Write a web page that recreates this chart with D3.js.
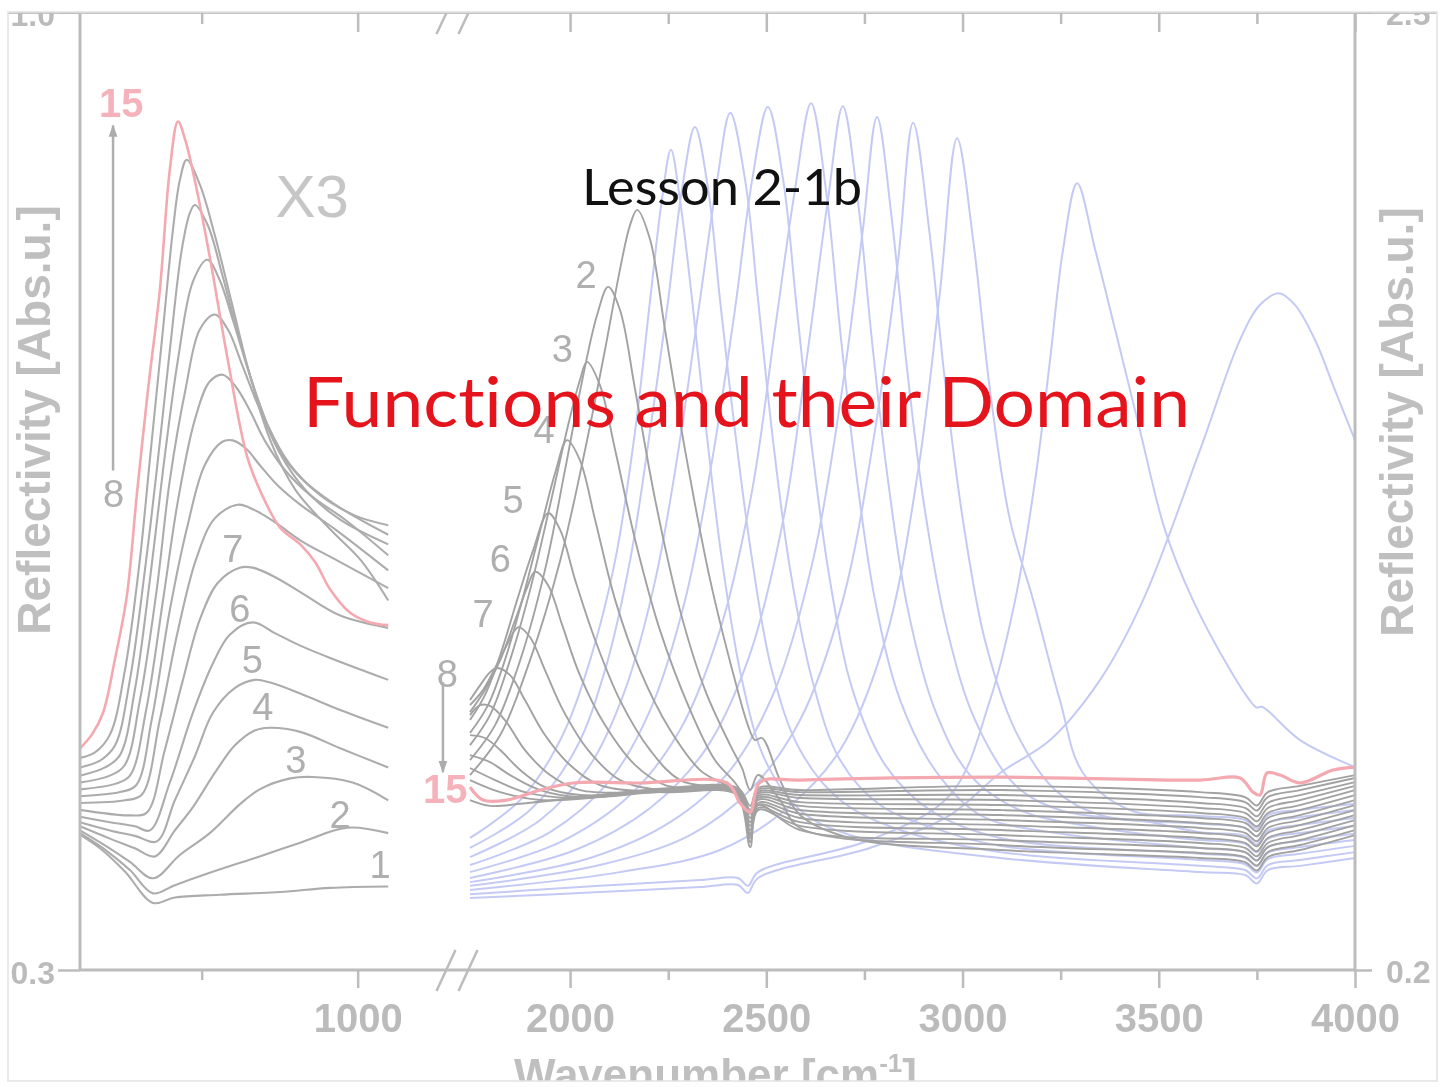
<!DOCTYPE html>
<html>
<head>
<meta charset="utf-8">
<script src="https://cdn.jsdelivr.net/npm/d3@7"></script>
<style>
  body { margin: 0; background: #fff; }
  svg { display: block; }
  .slide { font-variant-ligatures: none; font-feature-settings: "liga" 0; }
</style>
</head>
<body>
<svg id="chart" width="1451" height="1087"></svg>
<script>
// ---- data (wavenumber in cm-1, reflectivity in Abs.u.) ----
var xTicksLeftMajor = [1000], xTicksLeftMinor = [750];
var xTicksRightMajor = [2000, 2500, 3000, 3500, 4000], xTicksRightMinor = [2250, 2750, 3250, 3750];
var yTicksLeft = [0.3, 1.0], yTicksRight = [0.2, 2.5];

// left panel (x3), spectra 1..14 in grey
var leftSpectra = [
  {w: [555,587,627,672,707,779,876,956,1049], r: [.399,.389,.372,.349,.353,.355,.357,.360,.361]},
  {w: [555,595,635,672,707,763,843,908,983,1049], r: [.400,.388,.373,.356,.362,.371,.383,.393,.404,.400]},
  {w: [555,595,635,672,715,763,811,843,892,928,992,1049], r: [.402,.391,.379,.367,.384,.400,.421,.432,.440,.441,.437,.424]},
  {w: [555,603,643,675,707,736,771,803,835,860,908,972,1049], r: [.405,.396,.389,.383,.402,.419,.444,.464,.475,.477,.474,.462,.448]},
  {w: [555,603,643,678,707,739,768,803,835,860,908,972,1049], r: [.408,.402,.398,.394,.424,.456,.488,.506,.512,.510,.502,.490,.477]},
  {w: [555,603,643,667,699,736,767,795,832,868,908,956,1049], r: [.412,.408,.405,.402,.437,.488,.523,.545,.554,.546,.537,.528,.512]},
  {w: [555,635,662,691,720,747,776,811,832,868,912,972,1049], r: [.417,.413,.415,.461,.512,.556,.583,.594,.594,.587,.575,.559,.550]},
  {w: [555,627,654,683,712,741,771,808,835,868,908,964,1049], r: [.422,.424,.428,.483,.548,.600,.630,.640,.636,.627,.614,.600,.579]},
  {w: [555,619,645,670,699,726,755,783,800,821,843,872,908,964,1049], r: [.427,.430,.435,.483,.563,.622,.669,.686,.687,.681,.669,.654,.640,.622,.592]},
  {w: [555,611,635,661,688,712,739,763,784,805,827,851,884,924,980,1049], r: [.432,.436,.442,.490,.570,.643,.702,.730,.735,.726,.709,.687,.665,.647,.629,.603]},
  {w: [555,603,627,651,678,699,724,747,771,792,815,840,872,908,964,1049], r: [.437,.442,.450,.497,.578,.658,.724,.768,.779,.768,.742,.713,.681,.660,.640,.618]},
  {w: [555,595,619,643,667,688,712,736,759,779,800,827,856,892,940,996,1049], r: [.442,.448,.457,.505,.585,.665,.746,.803,.819,.804,.775,.735,.698,.669,.647,.632,.625]},
  {w: [555,587,611,635,659,678,699,718,731,739,760,783,811,840,876,916,972,1049], r: [.448,.453,.464,.512,.592,.665,.753,.826,.853,.859,.844,.808,.760,.717,.677,.651,.629,.611]},
  {w: [555,579,603,627,651,667,688,704,715,726,747,771,799,827,860,900,956,1004,1049], r: [.455,.459,.472,.519,.600,.673,.768,.841,.877,.892,.874,.837,.786,.735,.687,.651,.622,.600,.570]}
];
// left panel, spectrum 15
var leftLast = {w: [555,574,592,611,630,646,664,683,699,712,724,739,763,791,823,847,876,908,932,956,988,1020,1049],
                r: [.462,.472,.488,.527,.573,.647,.724,.797,.885,.920,.906,.877,.821,.748,.675,.647,.623,.611,.598,.578,.561,.554,.552]};

// right panel, spectra 1..14 in grey
var rightSpectra = [
  {w: [1745,1822,1898,1975,2038,2089,2127,2153,2171,2204,2242,2293,2357,2420,2453,2471,2489,2535,2586,2713,3096,3605,3720,3750,3778,3860,4000],
   r: [.668,.764,.944,1.184,1.448,1.689,1.881,1.989,2.025,1.953,1.737,1.448,1.136,.896,.788,.752,.757,.656,.572,.517,.488,.469,.459,.439,.471,.488,.524]},
  {w: [1745,1809,1873,1936,1987,2031,2069,2097,2127,2166,2217,2280,2344,2408,2438,2459,2479,2535,2586,3096,3605,3720,3750,3778,3860,4000],
   r: [.704,.788,.944,1.160,1.400,1.616,1.773,1.840,1.785,1.592,1.328,1.064,.872,.740,.685,.632,.668,.608,.541,.500,.481,.471,.451,.483,.500,.536]},
  {w: [1745,1796,1847,1898,1949,1995,2025,2043,2076,2115,2166,2229,2306,2369,2433,2459,2479,2586,3096,3605,3720,3750,3778,3860,4000],
   r: [.740,.812,.944,1.112,1.316,1.508,1.616,1.660,1.604,1.448,1.232,1.016,.824,.704,.632,.524,.596,.536,.512,.493,.483,.463,.495,.512,.548]},
  {w: [1745,1791,1834,1878,1924,1964,1992,2025,2064,2115,2178,2255,2331,2428,2459,2479,2586,3096,3605,3720,3750,3778,3860,4000],
   r: [.769,.836,.944,1.088,1.256,1.400,1.472,1.424,1.280,1.088,.920,.776,.680,.620,.495,.584,.546,.524,.505,.493,.473,.505,.524,.560]},
  {w: [1745,1783,1822,1865,1906,1944,1975,2013,2064,2127,2204,2280,2428,2459,2479,2586,3096,3605,3720,3750,3778,3860,4000],
   r: [.800,.860,.956,1.088,1.208,1.297,1.256,1.136,.992,.848,.728,.656,.620,.507,.589,.555,.536,.517,.505,.485,.517,.536,.572]},
  {w: [1745,1783,1822,1860,1890,1911,1944,1980,2025,2089,2166,2242,2428,2459,2479,2586,3096,3605,3720,3750,3778,3860,4000],
   r: [.819,.872,.944,1.040,1.117,1.156,1.124,1.028,.908,.788,.692,.644,.620,.517,.596,.565,.548,.529,.517,.497,.529,.548,.584]},
  {w: [1745,1778,1809,1839,1868,1898,1936,1982,2046,2127,2229,2428,2459,2479,2586,3096,3605,3720,3750,3778,3860,4000],
   r: [.836,.872,.925,.980,1.023,.999,.920,.824,.728,.656,.632,.620,.527,.601,.575,.560,.541,.529,.509,.541,.560,.596]},
  {w: [1745,1771,1796,1814,1847,1885,1936,2000,2076,2229,2428,2459,2479,2586,3096,3605,3720,3750,3778,3860,4000],
   r: [.848,.884,.915,.925,.908,.848,.764,.692,.644,.627,.620,.536,.608,.584,.572,.553,.541,.521,.553,.572,.608]},
  {w: [1745,1771,1796,1834,1885,1949,2025,2229,2428,2459,2479,2586,3096,3605,3720,3750,3778,3860,4000],
   r: [.812,.836,.834,.800,.728,.668,.632,.627,.625,.546,.613,.594,.584,.565,.553,.533,.565,.584,.620]},
  {w: [1745,1783,1822,1873,1936,2025,2229,2428,2459,2479,2586,3096,3605,3720,3750,3778,3860,4000],
   r: [.764,.757,.728,.680,.639,.620,.627,.627,.555,.618,.603,.596,.577,.565,.545,.577,.596,.632]},
  {w: [1745,1796,1847,1924,2025,2229,2428,2459,2479,2586,3096,3605,3720,3750,3778,3860,4000],
   r: [.716,.699,.668,.632,.615,.627,.630,.565,.623,.613,.608,.589,.577,.557,.589,.608,.642]},
  {w: [1745,1809,1885,2000,2229,2428,2459,2479,2586,3096,3605,3720,3750,3778,3860,4000],
   r: [.685,.656,.627,.613,.630,.632,.575,.627,.620,.620,.601,.589,.569,.601,.620,.651]},
  {w: [1745,1822,1924,2076,2229,2428,2459,2479,2586,3096,3605,3720,3750,3778,3860,4000],
   r: [.656,.627,.608,.615,.632,.635,.584,.632,.627,.632,.615,.603,.583,.615,.632,.661]},
  {w: [1745,1796,1873,2076,2229,2428,2459,2479,2586,3096,3605,3720,3750,3778,3860,4000],
   r: [.608,.594,.599,.620,.635,.637,.594,.637,.632,.642,.627,.615,.595,.627,.642,.668]}
];
// right panel, spectrum 15
var rightLast = {w: [1745,1778,1839,1924,2008,2178,2400,2433,2459,2484,2586,3096,3605,3707,3740,3758,3776,3809,3860,3944,4000],
                 r: [.639,.608,.608,.632,.649,.649,.649,.601,.579,.651,.656,.663,.656,.661,.627,.620,.673,.668,.649,.680,.687]};

// right panel, later spectra in blue
var rightLater = [
  {w: [1745,1873,1975,2051,2115,2166,2204,2234,2257,2280,2311,2347,2387,2438,2497,2586,2713,3096,3605,3720,3750,3778,3860,4000],
   r: [.517,.608,.752,.944,1.184,1.496,1.809,2.049,2.169,2.049,1.809,1.496,1.184,.896,.704,.584,.524,.469,.435,.428,.408,.440,.450,.469]},
  {w: [1745,1898,2013,2089,2153,2204,2250,2285,2318,2352,2382,2420,2464,2514,2586,2688,2841,3096,3605,3720,3750,3778,3860,4000],
   r: [.493,.584,.728,.920,1.184,1.496,1.809,2.073,2.224,2.073,1.809,1.496,1.184,.920,.728,.608,.536,.483,.450,.440,.420,.452,.464,.483]},
  {w: [1745,1924,2051,2140,2217,2280,2331,2375,2408,2446,2479,2517,2561,2617,2688,2790,2943,3096,3605,3720,3750,3778,3860,4000],
   r: [.471,.560,.692,.872,1.136,1.472,1.809,2.097,2.258,2.097,1.809,1.472,1.160,.896,.704,.596,.536,.498,.464,.454,.434,.466,.479,.498]},
  {w: [1745,1949,2102,2204,2293,2362,2420,2464,2504,2543,2578,2617,2662,2720,2803,2917,3096,3605,3720,3750,3778,3860,4000],
   r: [.452,.531,.656,.824,1.088,1.424,1.785,2.097,2.272,2.097,1.785,1.448,1.136,.872,.692,.584,.517,.479,.469,.449,.481,.495,.512]},
  {w: [1745,1975,2153,2280,2382,2464,2522,2573,2614,2652,2688,2728,2777,2841,2930,3045,3223,3605,3720,3750,3778,3860,4000],
   r: [.435,.507,.620,.776,1.016,1.352,1.737,2.073,2.281,2.073,1.737,1.400,1.088,.848,.680,.572,.531,.493,.483,.463,.495,.510,.527]},
  {w: [1745,2013,2204,2344,2453,2543,2606,2657,2695,2733,2769,2810,2861,2930,3019,3146,3350,3605,3720,3750,3778,3860,4000],
   r: [.421,.488,.589,.728,.944,1.280,1.689,2.049,2.274,2.049,1.713,1.376,1.064,.824,.668,.584,.541,.512,.503,.483,.515,.529,.546]},
  {w: [1745,2051,2255,2408,2522,2619,2693,2746,2782,2820,2859,2904,2961,3032,3134,3248,3478,3605,3720,3750,3778,3860,4000],
   r: [.411,.469,.555,.680,.872,1.184,1.592,1.977,2.248,2.001,1.640,1.304,1.016,.800,.644,.584,.555,.531,.522,.502,.534,.548,.565]},
  {w: [1745,2076,2306,2459,2586,2695,2777,2836,2874,2915,2955,3001,3057,3134,3236,3350,3605,3720,3750,3778,3860,4000],
   r: [.402,.452,.524,.632,.800,1.088,1.496,1.905,2.234,1.977,1.616,1.280,.992,.776,.632,.572,.551,.541,.521,.553,.567,.584]},
  {w: [1745,2127,2382,2548,2688,2803,2887,2943,2986,3027,3070,3121,3180,3248,3307,3427,3605,3720,3750,3778,3860,4000],
   r: [.392,.435,.488,.584,.728,.992,1.400,1.833,2.197,1.953,1.592,1.280,1.088,.848,.673,.584,.570,.560,.540,.572,.584,.599]},
  {w: [1745,2076,2331,2428,2453,2479,2764,2968,3070,3134,3185,3223,3256,3292,3338,3389,3452,3516,3587,3682,3733,3750,3763,3860,4000],
   r: [.382,.402,.416,.421,.402,.435,.512,.620,.848,1.088,1.376,1.665,1.929,2.089,1.929,1.737,1.496,1.256,1.088,.920,.846,.830,.832,.752,.687]},
  {w: [1745,2076,2331,2428,2453,2479,2764,2968,3096,3223,3350,3460,3605,3707,3758,3806,3847,3898,3949,4000],
   r: [.373,.387,.399,.404,.385,.421,.493,.572,.673,.752,.896,1.088,1.448,1.713,1.797,1.825,1.797,1.713,1.592,1.472]}
];

// curve number labels: [text, wavenumber, reflectivity]
var leftLabels = [["1",1036,.367],["2",972,.404],["3",901,.444],["4",848,.483],["5",831,.517],["6",811,.554],["7",800,.598],["8",609,.638]];
var rightLabels = [["2",2041,1.837],["3",1980,1.660],["4",1934,1.465],["5",1855,1.297],["6",1822,1.156],["7",1778,1.023],["8",1687,.879]];
var lastLabelLeft = ["15", 621, .923], lastLabelRight = ["15", 1682, .601];
var arrowLeft = [[608, .665], [608, .917]], arrowRight = [[1676, .891], [1676, .675]];

// ---- drawing ----
var svg = d3.select("#chart");
var W = 1451, H = 1087;
var axisGrey = "#bcbcbc", textGrey = "#bbbbbb";
var sans = "'Liberation Sans', Arial, sans-serif";

var xL = d3.scaleLinear().domain([555, 1140]).range([80, 445]);
var xR = d3.scaleLinear().domain([1745, 4000]).range([470, 1355]);
var yL = d3.scaleLinear().domain([0.3, 1.0]).range([970, 12]);
var yR = d3.scaleLinear().domain([0.2, 2.5]).range([970, 12]);

var defs = svg.append("defs");
defs.append("clipPath").attr("id", "frame")
  .append("rect").attr("x", 8).attr("y", 12).attr("width", 1429).attr("height", 1069);
defs.append("filter").attr("id", "soft")
  .append("feGaussianBlur").attr("stdDeviation", 0.7);
defs.append("marker").attr("id", "head").attr("viewBox", "0 0 10 10")
  .attr("refX", 9).attr("refY", 5).attr("markerWidth", 5).attr("markerHeight", 5)
  .attr("orient", "auto").attr("markerUnits", "strokeWidth")
  .append("path").attr("d", "M0,1.5L10,5L0,8.5z").attr("fill", "#adadad");

svg.append("rect").attr("width", W).attr("height", H).attr("fill", "#fff");

var g = svg.append("g").attr("clip-path", "url(#frame)");
var fig = g.append("g").attr("filter", "url(#soft)");

var lineL = d3.line().x(function(d) { return xL(d[0]); }).y(function(d) { return yL(d[1]); })
  .curve(d3.curveCatmullRom.alpha(0.5));
var lineR = d3.line().x(function(d) { return xR(d[0]); }).y(function(d) { return yR(d[1]); })
  .curve(d3.curveCatmullRom.alpha(0.5));
function pts(s) { return d3.zip(s.w, s.r); }

// spectra
fig.append("g").selectAll("path").data(rightLater).enter().append("path")
  .attr("d", function(s) { return lineR(pts(s)); })
  .attr("fill", "none").attr("stroke", "#c4caf4").attr("stroke-width", 2);
fig.append("g").selectAll("path").data(rightSpectra).enter().append("path")
  .attr("d", function(s) { return lineR(pts(s)); })
  .attr("fill", "none").attr("stroke", "#a2a2a2").attr("stroke-width", 1.9);
fig.append("g").selectAll("path").data(leftSpectra).enter().append("path")
  .attr("d", function(s) { return lineL(pts(s)); })
  .attr("fill", "none").attr("stroke", "#acacac").attr("stroke-width", 2.1);
fig.append("path").attr("d", lineR(pts(rightLast)))
  .attr("fill", "none").attr("stroke", "#f4a9b1").attr("stroke-width", 3.2);
fig.append("path").attr("d", lineL(pts(leftLast)))
  .attr("fill", "none").attr("stroke", "#f4a9b1").attr("stroke-width", 2.6);

// axis lines
var ax = fig.append("g").attr("stroke", axisGrey).attr("stroke-width", 3).attr("fill", "none");
ax.append("line").attr("x1", xL.range()[0]).attr("x2", xL.range()[0]).attr("y1", yL.range()[1]).attr("y2", yL.range()[0]);
ax.append("line").attr("x1", xR.range()[1]).attr("x2", xR.range()[1]).attr("y1", yR.range()[1]).attr("y2", yR.range()[0]);
ax.append("line").attr("x1", xL.range()[0]).attr("x2", xR.range()[1]).attr("y1", yL.range()[0]).attr("y2", yL.range()[0]);
ax.append("line").attr("x1", 8).attr("x2", 1437).attr("y1", 12.5).attr("y2", 12.5).attr("stroke", "#c4c4c4");

// axis break marks
var brk = (xL.range()[1] + xR.range()[0]) / 2;
[-11, 11].forEach(function(o) {
  ax.append("line").attr("x1", brk + o - 10).attr("y1", 991).attr("x2", brk + o + 9).attr("y2", 950).attr("stroke-width", 2.5);
  ax.append("line").attr("x1", brk + o - 10).attr("y1", 34).attr("x2", brk + o + 6).attr("y2", 0).attr("stroke-width", 2.5);
});

function styleAxis(sel, size) {
  sel.select(".domain").remove();
  sel.selectAll(".tick line").attr("stroke", axisGrey).attr("stroke-width", 2.5);
  sel.selectAll(".tick text").attr("fill", textGrey).attr("font-family", sans)
    .attr("font-weight", "bold").attr("font-size", size);
}

// bottom ticks
fig.append("g").attr("transform", "translate(0,970)")
  .call(d3.axisBottom(xL).tickValues(xTicksLeftMajor).tickSize(18).tickPadding(16).tickFormat(d3.format("d")))
  .call(styleAxis, 40);
fig.append("g").attr("transform", "translate(0,970)")
  .call(d3.axisBottom(xL).tickValues(xTicksLeftMinor).tickSize(10).tickFormat(""))
  .call(styleAxis, 40);
fig.append("g").attr("transform", "translate(0,970)")
  .call(d3.axisBottom(xR).tickValues(xTicksRightMajor).tickSize(18).tickPadding(16).tickFormat(d3.format("d")))
  .call(styleAxis, 40);
fig.append("g").attr("transform", "translate(0,970)")
  .call(d3.axisBottom(xR).tickValues(xTicksRightMinor).tickSize(10).tickFormat(""))
  .call(styleAxis, 40);
// top ticks (pointing inward)
fig.append("g").attr("transform", "translate(0,12)")
  .call(d3.axisBottom(xL).tickValues(xTicksLeftMajor).tickSize(20).tickFormat(""))
  .call(styleAxis, 40);
fig.append("g").attr("transform", "translate(0,12)")
  .call(d3.axisBottom(xL).tickValues(xTicksLeftMinor).tickSize(12).tickFormat(""))
  .call(styleAxis, 40);
fig.append("g").attr("transform", "translate(0,12)")
  .call(d3.axisBottom(xR).tickValues(xTicksRightMajor).tickSize(20).tickFormat(""))
  .call(styleAxis, 40);
fig.append("g").attr("transform", "translate(0,12)")
  .call(d3.axisBottom(xR).tickValues(xTicksRightMinor).tickSize(12).tickFormat(""))
  .call(styleAxis, 40);
// y ticks
fig.append("g").attr("transform", "translate(" + xL.range()[0] + ",0)")
  .call(d3.axisLeft(yL).tickValues(yTicksLeft).tickSize(22).tickPadding(3).tickFormat(d3.format(".1f")))
  .call(styleAxis, 32)
  .selectAll(".tick text").attr("y", 3);
fig.append("g").attr("transform", "translate(" + xR.range()[1] + ",0)")
  .call(d3.axisRight(yR).tickValues(yTicksRight).tickSize(17).tickPadding(14).tickFormat(d3.format(".1f")))
  .call(styleAxis, 32)
  .selectAll(".tick text").attr("y", 2);

// axis titles
fig.append("text").attr("transform", "translate(50,420) rotate(-90)")
  .attr("text-anchor", "middle").attr("font-family", sans).attr("font-weight", "bold")
  .attr("font-size", 46).attr("fill", "#bfbfbf").text("Reflectivity [Abs.u.]");
fig.append("text").attr("transform", "translate(1413,422) rotate(-90)")
  .attr("text-anchor", "middle").attr("font-family", sans).attr("font-weight", "bold")
  .attr("font-size", 46).attr("fill", "#bfbfbf").text("Reflectivity [Abs.u.]");
var xt = fig.append("text").attr("x", 514).attr("y", 1090).attr("font-family", sans)
  .attr("font-weight", "bold").attr("font-size", 44).attr("fill", "#bfbfbf");
xt.append("tspan").text("Wavenumber [cm");
xt.append("tspan").attr("dy", -18).attr("font-size", 26).text("-1");
xt.append("tspan").attr("dy", 18).text("]");

// annotations
fig.append("text").attr("x", xL(927)).attr("y", yL(.850)).attr("text-anchor", "middle")
  .attr("font-family", sans).attr("font-size", 60).attr("fill", "#c6c6c6").text("X3");
fig.append("g").selectAll("text").data(leftLabels).enter().append("text")
  .attr("x", function(d) { return xL(d[1]); }).attr("y", function(d) { return yL(d[2]); })
  .attr("text-anchor", "middle").attr("font-family", sans).attr("font-size", 38)
  .attr("fill", "#afafaf").text(function(d) { return d[0]; });
fig.append("g").selectAll("text").data(rightLabels).enter().append("text")
  .attr("x", function(d) { return xR(d[1]); }).attr("y", function(d) { return yR(d[2]); })
  .attr("text-anchor", "middle").attr("font-family", sans).attr("font-size", 38)
  .attr("fill", "#afafaf").text(function(d) { return d[0]; });
fig.append("text").attr("x", xL(lastLabelLeft[1])).attr("y", yL(lastLabelLeft[2]))
  .attr("text-anchor", "middle").attr("font-family", sans).attr("font-weight", "bold").attr("font-size", 40)
  .attr("fill", "#f6b2ba").text(lastLabelLeft[0]);
fig.append("text").attr("x", xR(lastLabelRight[1])).attr("y", yR(lastLabelRight[2]))
  .attr("text-anchor", "middle").attr("font-family", sans).attr("font-weight", "bold").attr("font-size", 40)
  .attr("fill", "#f6b2ba").text(lastLabelRight[0]);
fig.append("line").attr("x1", xL(arrowLeft[0][0])).attr("y1", yL(arrowLeft[0][1]))
  .attr("x2", xL(arrowLeft[1][0])).attr("y2", yL(arrowLeft[1][1]))
  .attr("stroke", "#afafaf").attr("stroke-width", 2.5).attr("marker-end", "url(#head)");
fig.append("line").attr("x1", xR(arrowRight[0][0])).attr("y1", yR(arrowRight[0][1]))
  .attr("x2", xR(arrowRight[1][0])).attr("y2", yR(arrowRight[1][1]))
  .attr("stroke", "#afafaf").attr("stroke-width", 2.5).attr("marker-end", "url(#head)");

// frame
svg.append("rect").attr("x", 8).attr("y", 12).attr("width", 1429).attr("height", 1069)
  .attr("fill", "none").attr("stroke", "#e2e2e2").attr("stroke-width", 1.5);

// slide titles
svg.append("text").attr("class", "slide").attr("x", 582).attr("y", 205).attr("font-family", "Lato, 'Open Sans', sans-serif")
  .attr("font-size", 50).attr("fill", "#111").attr("textLength", 280).attr("lengthAdjust", "spacingAndGlyphs")
  .text("Lesson 2-1b");
svg.append("text").attr("class", "slide").attr("x", 303).attr("y", 427).attr("font-family", "Lato, 'Open Sans', sans-serif")
  .attr("font-size", 69).attr("fill", "#e5141c").attr("textLength", 887).attr("lengthAdjust", "spacingAndGlyphs")
  .text("Functions and their Domain");
</script>
</body>
</html>
